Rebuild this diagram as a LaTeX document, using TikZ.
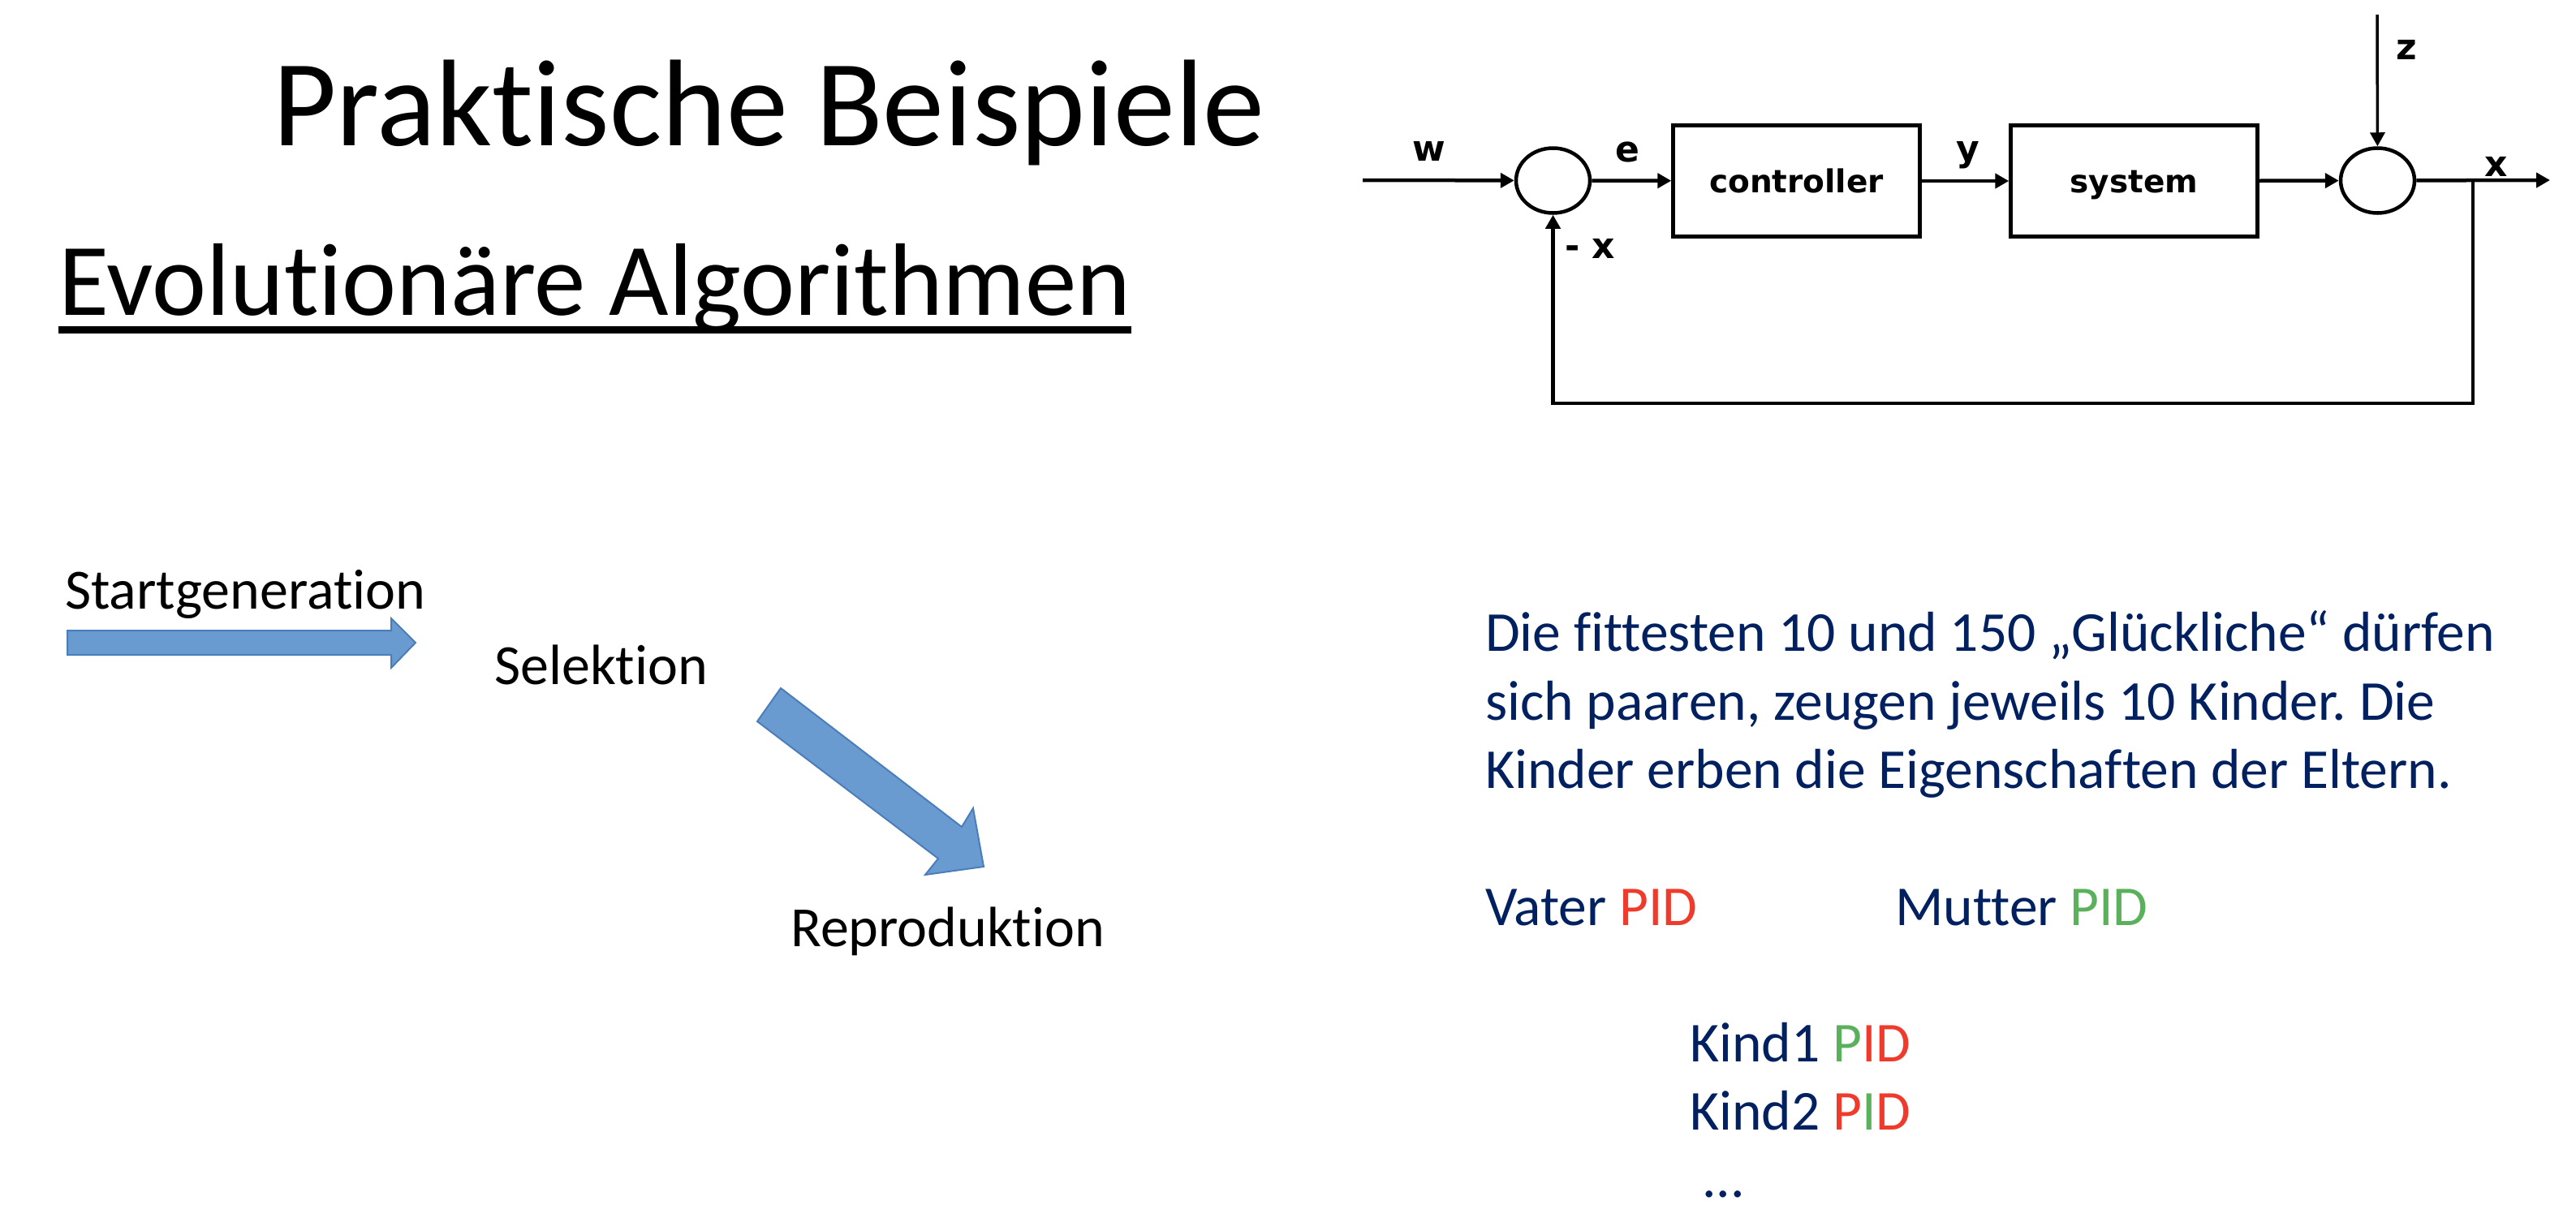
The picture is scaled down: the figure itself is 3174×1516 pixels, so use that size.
\documentclass[tikz,border=0pt]{standalone}
\usepackage{fontspec}
\setmainfont{Carlito}[Ligatures={NoCommon}]
\newfontfamily\dejab{DejaVu Sans}
\usetikzlibrary{arrows.meta,shapes.geometric}
\definecolor{navy}{HTML}{002060}
\definecolor{pidred}{HTML}{EE3B2B}
\definecolor{pidgreen}{HTML}{5BB05B}
\definecolor{arrfill}{HTML}{6A9BD0}
\definecolor{arrdraw}{HTML}{4A7EBB}
\frenchspacing
\begin{document}
\begin{tikzpicture}[x=1pt,y=-1pt,
  txt/.style={anchor=base west, inner sep=0pt, font=\fontsize{69.5}{84}\selectfont},
  lbl/.style={anchor=base, inner sep=0pt, font=\dejab\bfseries\fontsize{44}{52}\selectfont},
  blk/.style={draw, line width=4.5pt, minimum width=304pt, minimum height=137pt, inner sep=0pt,
              text height=29pt, text depth=0pt, font=\dejab\bfseries\fontsize{39}{46}\selectfont},
  sumpt/.style={draw, ellipse, line width=4.5pt, minimum width=91pt, minimum height=80pt, inner sep=0pt},
  sig/.style={line width=4.5pt, -{Triangle[length=17pt,width=18pt]}},
  blockarrow/.style={fill=arrfill, draw=arrdraw, line width=2pt, line join=miter}]
\useasboundingbox (0,0) rectangle (3174,1516);

% titles
\node[anchor=base west, inner sep=0pt, font=\fontsize{152}{182}\selectfont] (title) at (336,179) {Praktische Beispiele};
\node[anchor=base west, inner sep=0pt, font=\fontsize{127}{152}\selectfont] (sub) at (72,388) {Evolutionäre Algorithmen};
\draw[line width=9pt] ([yshift=-18pt]sub.base west) -- ([yshift=-18pt]sub.base east);

% control loop
\coordinate (in) at (1679,222);
\node[sumpt] (s1) at (1913.5,222.5) {};
\node[blk] (ctrl) at (2213.5,223) {controller};
\node[blk] (sys) at (2629.5,223) {system};
\node[sumpt] (s2) at (2929.5,222.5) {};
\coordinate (out) at (3142,222);
\coordinate (ztop) at (2929,18);
\coordinate (br) at (3047,222);
\coordinate (fbr) at (3047,497);
\coordinate (fbl) at (1913.5,497);

\draw[sig] (in) -- (s1);
\draw[sig] (s1) -- (ctrl);
\draw[sig] (ctrl) -- (sys);
\draw[sig] (sys) -- (s2);
\draw[sig] (s2) -- (out);
\draw[sig, line width=3.5pt] (ztop) -- (s2);
\draw[sig, line join=miter] (br) -- (fbr) -- (fbl) -- (s1);

\node[lbl] (lw) at (1761,198) {w};
\node[lbl] (le) at (2005,199) {e};
\node[lbl] (ly) at (2425,198) {y};
\node[lbl] (lz) at (2965,73) {z};
\node[lbl] (lx) at (3076,217) {x};
\node[lbl, anchor=base west] (lmx) at (1928,318) {-\,\,x};

% left process
\node[txt, font=\fontsize{70}{84}\selectfont] (start) at (80,750) {Startgeneration};
\node[txt, font=\fontsize{70}{84}\selectfont] (sel) at (609,843) {Selektion};
\node[txt, font=\fontsize{70}{84}\selectfont] (rep) at (974,1166) {Reproduktion};
\draw[blockarrow] (83,777) -- (482,777) -- (482,762) -- (512,792) -- (482,823) -- (482,807) -- (83,807) -- cycle;
\draw[blockarrow] (962,848) -- (1185,1019) -- (1199,996) -- (1212,1068) -- (1140,1078) -- (1156,1058) -- (933,889) -- cycle;

% right text
\node[txt, text=navy] (d1) at (1830,802) {Die fittesten 10 und 150 „Glückliche“ dürfen};
\node[txt, text=navy] (d2) at (1830,887) {sich paaren, zeugen jeweils 10 Kinder. Die};
\node[txt, text=navy] (d3) at (1830,971) {Kinder erben die Eigenschaften der Eltern.};
\node[txt, text=navy] (vater) at (1830,1140) {Vater \textcolor{pidred}{PID}};
\node[txt, text=navy] (mutter) at (2335,1140) {Mutter \textcolor{pidgreen}{PID}};
\node[txt, text=navy] (k1) at (2082,1308) {Kind1 \textcolor{pidgreen}{P}\textcolor{pidred}{ID}};
\node[txt, text=navy] (k2) at (2082,1392) {Kind2 \textcolor{pidred}{P}\textcolor{pidgreen}{I}\textcolor{pidred}{D}};
\node[txt, text=navy] (dots) at (2097,1475) {...};
\end{tikzpicture}
\end{document}
